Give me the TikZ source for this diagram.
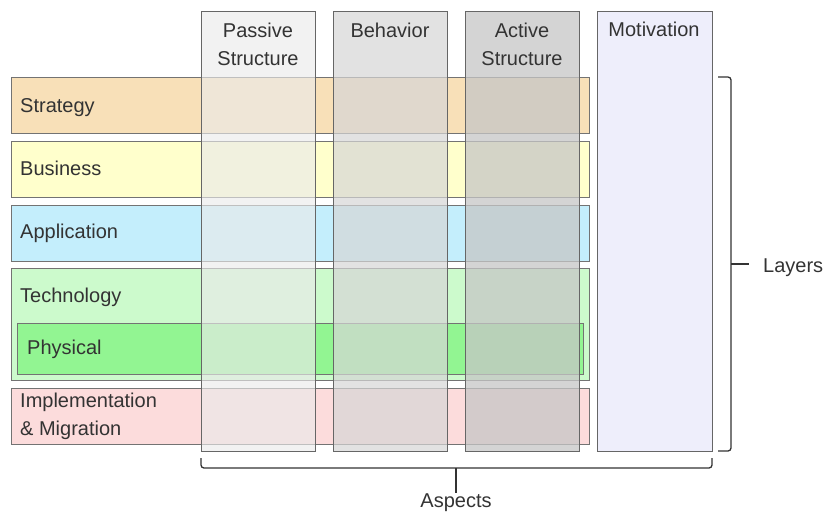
\documentclass[tikz,border=0pt]{standalone}
\usepackage{fontspec}
\setmainfont{Liberation Sans}
\usetikzlibrary{positioning}
\tikzset{>=latex}
\definecolor{strategyc}{HTML}{F8E0B8}
\definecolor{businessc}{HTML}{FFFFCC}
\definecolor{applicationc}{HTML}{C4EEFC}
\definecolor{technologyc}{HTML}{CCFACC}
\definecolor{physicalc}{HTML}{92F592}
\definecolor{implementationc}{HTML}{FCDCDC}
\definecolor{passivec}{HTML}{EAEAEA}
\definecolor{behaviorc}{HTML}{D6D6D6}
\definecolor{activec}{HTML}{C6C6C6}
\definecolor{motivationc}{HTML}{EEEEFB}
\tikzset{
  layerbox/.style={draw=black!55, line width=1pt, anchor=north west, inner sep=0pt,
    minimum width=578pt, minimum height=56pt},
  aspectbox/.style={draw=black!60, line width=1pt, anchor=north west, inner sep=0pt,
    minimum width=114pt, minimum height=440pt},
  lbl/.style={text=black!80, font=\fontsize{20}{28}\selectfont, inner sep=0pt},
  brace/.style={draw=black!80, line width=1.3pt, rounded corners=3pt}
}

\begin{document}
\begin{tikzpicture}[x=1pt,y=-1pt]
    \useasboundingbox (0,0) rectangle (827,512);
    % layers
    \node[layerbox, fill=strategyc] (strategy) at (11,77) {};
    \node[layerbox, fill=businessc] (business) at (11,141) {};
    \node[layerbox, fill=applicationc] (application) at (11,205) {};
    \node[layerbox, fill=technologyc, minimum height=112pt] (technology) at (11,268) {};
    \node[layerbox, fill=physicalc, minimum width=566pt, minimum height=51pt] (physical) at (17,323) {};
    \node[layerbox, fill=implementationc] (implementation) at (11,388) {};
    \node[lbl, anchor=base west] (strategytxt) at (20,112) {Strategy};
    \node[lbl, anchor=base west] (businesstxt) at (20,175) {Business};
    \node[lbl, anchor=base west] (applicationtxt) at (20,238) {Application};
    \node[lbl, anchor=base west] (technologytxt) at (20,302) {Technology};
    \node[lbl, anchor=base west] (physicaltxt) at (27,354) {Physical};
    \node[lbl, anchor=north west, align=left] (implementationtxt) at (20,393) {Implementation\\\& Migration};
    % aspects
    \node[aspectbox, fill=passivec, fill opacity=0.64] (passive) at (201,11) {};
    \node[aspectbox, fill=behaviorc, fill opacity=0.7] (behavior) at (333,11) {};
    \node[aspectbox, fill=activec, fill opacity=0.75] (active) at (465,11) {};
    \node[aspectbox, fill=motivationc, minimum width=115pt] (motivation) at (597,11) {};
    \node[lbl, anchor=north, align=center] (passivetxt) at (258,23) {Passive\\Structure};
    \node[lbl, anchor=north] (behaviortxt) at (390,23) {Behavior};
    \node[lbl, anchor=north, align=center] (activetxt) at (522,23) {Active\\Structure};
    \node[lbl, anchor=north] (motivationtxt) at (654,22) {Motivation};
    % braces
    \coordinate (ltop) at (718,77);
    \coordinate (lbot) at (718,451);
    \coordinate (lmid) at (731,264);
    \draw[brace] (ltop) -- (731,77) -- (731,451) -- (lbot);
    \draw[brace] (lmid) -- (749,264);
    \node[lbl, anchor=base west] (layerstxt) at (763,272) {Layers};
    \coordinate (aleft) at (201,458);
    \coordinate (aright) at (712,458);
    \coordinate (amid) at (456,468);
    \draw[brace] (aleft) -- (201,468) -- (712,468) -- (aright);
    \node[lbl, anchor=base] (aspectstxt) at (456,507) {Aspects};
    \draw[brace] (amid) -- (aspectstxt.north);
\end{tikzpicture}
\end{document}
